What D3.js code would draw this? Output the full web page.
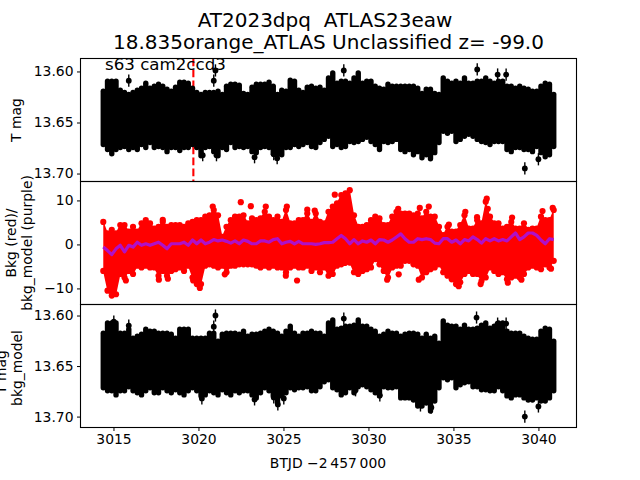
<!DOCTYPE html>
<html><head><meta charset="utf-8"><script src="https://cdn.jsdelivr.net/npm/d3@7/dist/d3.min.js"></script>
<style>html,body{margin:0;background:#fff}svg{display:block}text{font-family:"DejaVu Sans";fill:#000}</style></head>
<body><svg width="640" height="480"></svg>
<script>
const startTime=3014.4, stepDays=0.25;
// Envelope of the photometry, in thousandths of a mag above 13.600
const topHi=[17,7,7,7,16,18,20,18,16,14,9,14,12,10,12,15,17,13,8,8,9,14,18,20,18,18,18,17,20,12,10,10,11,19,20,13,10,10,10,8,12,20,16,17,6,7,16,18,13,12,14,13,16,4,
-1,9,7,7,9,4,-1,9,7,7,12,14,15,10,12,12,12,12,12,12,14,19,15,15,19,20,4,7,9,7,9,4,9,9,7,7,4,7,9,7,7,12,12,14,12,14,15,17,17,12,9,10,20];
const topLo=[74,79,83,79,77,76,79,77,79,74,77,72,77,76,77,81,77,77,80,77,77,74,77,85,77,76,81,85,77,79,72,77,76,77,76,81,82,77,76,77,83,84,84,77,77,74,76,74,72,76,77,72,69,66,
76,74,77,76,71,72,71,69,67,71,74,79,71,72,71,69,79,81,79,84,81,87,84,88,82,72,61,63,61,71,69,66,64,66,69,71,72,74,71,71,71,79,81,77,77,79,79,81,76,82,86,84,76];
const botHi=[15,5,5,5,15,15,11,20,18,16,11,13,13,15,15,15,16,20,11,11,11,20,20,20,20,15,15,23,16,15,15,15,16,13,18,16,16,15,13,11,13,15,18,13,8,15,18,15,15,13,15,15,18,5,
2,11,10,8,8,7,2,8,8,11,13,18,16,13,15,15,18,16,15,15,16,20,16,20,18,25,3,7,8,8,11,7,11,11,10,7,5,10,8,5,5,13,15,15,15,18,20,21,21,13,10,11,23];
const botLo=[74,77,77,81,77,77,73,77,79,81,77,74,79,79,74,77,79,76,79,81,77,74,77,82,81,77,79,81,76,79,81,77,79,77,77,81,84,79,74,77,82,89,82,79,74,76,74,74,73,77,77,73,68,66,
74,76,81,79,74,79,73,71,73,76,79,82,73,74,74,73,84,84,84,86,92,92,89,97,87,74,64,66,64,74,71,69,68,73,73,76,76,77,77,73,77,82,84,81,81,84,86,86,84,87,87,84,77];
const bkgHi=[5.8,3.2,4,3.2,5.1,5.1,3.6,4.7,3.6,5.5,6.2,5.5,4.3,4.7,5.8,4.7,5.1,5.1,5.1,4.7,5.5,5.8,6.2,6.2,7,7.3,8.5,7.3,2.4,4.7,6.2,7,7,7.3,5.5,6.6,6.2,6.6,8.1,7,6.2,7,5.8,8.5,5.5,5.5,6.2,6.2,7.7,5.8,7.7,5.8,5.5,8.1,
9.3,10,11.9,12.3,13,7.3,4.7,4.7,5.1,6.2,7,6.6,5.1,5.1,7,8.1,7.7,7.7,7.7,7.3,7.7,6.6,8.1,7,7,4.7,2.8,4.7,3.6,3.6,5.1,7.3,4.3,4.3,6.2,5.5,10.4,7,5.5,5.5,4.3,4.7,5.8,4.3,4.3,5.5,4,4.3,4.3,7,6.2,6.2,8.5];
const bkgLo=[-6.7,-11.2,-12.3,-12,-7.4,-8.2,-6.7,-7.4,-5.5,-5.9,-5.5,-5.9,-5.9,-7.8,-6.7,-7.8,-6.7,-6.3,-5.9,-6.7,-5.5,-8.2,-9.7,-9.7,-5.5,-5.2,-5.5,-5.9,-5.5,-7,-5.5,-5.5,-5.2,-5.2,-5.2,-5.2,-5.5,-5.9,-5.5,-5.9,-5.5,-5.9,-5.9,-7,-5.9,-5.5,-5.9,-5.9,-5.5,-6.7,-5.9,-7,-5.9,-7.8,
-7.4,-5.5,-5.2,-4.8,-4.8,-7,-7.4,-6.7,-6.3,-5.9,-4,-5.2,-6.7,-8.2,-5.9,-5.5,-5.5,-4.4,-4.4,-5.2,-5.5,-8.2,-7,-6.3,-5.9,-5.2,-7,-7.8,-8.6,-9.7,-9.3,-7.4,-6.7,-7.4,-7.4,-9,-8.2,-5.9,-6.7,-7.4,-7,-8.6,-8.2,-7.8,-8.2,-7.4,-5.9,-5.5,-5.9,-6.3,-5.2,-5.9,-4.4];
const bkgModel=[-.6,-1.4,-2.3,-1,-.2,-1.7,-.2,-.6,.5,-.2,.15,-.2,.15,.5,-.2,-1,.15,.15,.15,.5,-.2,1,.15,1,.15,.5,1.1,.8,1,.7,.3,.8,.15,1,.7,.15,.15,.8,.8,.5,1.1,1.3,.15,.5,.7,.15,.7,.15,.15,.15,0,.15,.4,.4,
.5,1.3,2.05,1.3,.15,1.1,.15,.8,.5,1,.15,1.1,1,.5,1,1.7,2.4,1.3,.5,.5,1.3,1.1,1.3,1.1,.3,.15,1.3,1.3,.5,1,.15,1.1,.8,1.7,1.1,.3,1.3,.8,1.3,.8,1.1,.8,1.7,2.6,1.1,1.7,2.6,2.6,2.05,1,.15,1.3,1.1];
// Isolated points: time, value
const topOutT=[3015.9,3020.9,3021,3028.55,3036.4,3037.6,3038.1,3039.2,3040,3023.3,3024.63,3024.43,3021.06,3020.25];
const topOutM=[9,9,-1,-1,-2,3,3,95,86,84,85,81,82,82];
const botOutT=[3015.02,3015.9,3021,3020.9,3020.2,3023.3,3024.43,3024.67,3025.02,3028.55,3029.24,3030.67,3033.06,3033.7,3036.36,3037.6,3038.1,3039.2,3040];
const botOutM=[6,10,0,11,82,83,81,88,82,3,74,79,89,91,2,8,8,100,90];
const bkgOutT=[3022.49,3023.08,3023.96,3025.2,3020.84,3017.9,3017.67,3018.2,3019.69,3020.08,3025.8,3025.14,3021.55,3015.73,3026.84,3026.4,3028.02,3035.7,3036.96,3037.02,3033.55,3033.02,3031.75,3034.73,3036.39,3040.84,3040.24,3038.45,3028.59,3031.1,3031.78,3032.96,3035.31,3036.6,3038.2,3039,3040.74];
const bkgOutV=[9.6,8.7,8.6,8.6,8.6,5.6,-8,-7.8,-8.2,-9.9,-8.2,-7.1,-6.8,-8.2,7.7,7.9,11.3,7.4,10.4,8.1,8.6,8.3,8.1,4.5,6.2,8.3,7.6,6.1,-4.2,-8,-6.8,-8,-9.5,-9,-8.7,-8,-5.5];
const markerTime=3019.7;
const xTicks=[3015,3020,3025,3030,3035,3040];
const magTicks=[13.60,13.65,13.70];
const bkgTicks=[10,0,-10];

const times=topHi.map((_,i)=>startTime+i*stepDays);
const svg=d3.select("svg");
const L=80.5,R=576.5;
const x=d3.scaleLinear().domain([3013.06,3042.24]).range([L,R]);
const yTop=d3.scaleLinear().domain([13.5873,13.7078]).range([58.5,181.5]);
const yMid=d3.scaleLinear().domain([14.3,-13.65]).range([181.5,304.5]);
const yBot=d3.scaleLinear().domain([13.5891,13.7108]).range([304.5,427.5]);

function tickAxis(g,axis){g.call(axis);g.selectAll("text").style("font-size","13.9px").style("font-family","DejaVu Sans");
 g.selectAll("line").attr("stroke","#000").attr("stroke-width",1);g.select(".domain").remove();}
function frame(y0,y1){svg.append("rect").attr("x",L).attr("y",y0).attr("width",R-L).attr("height",y1-y0).attr("fill","none").attr("stroke","#000").attr("stroke-width",1.1);}

// marker line lies under the black points
svg.append("line").attr("x1",x(markerTime)).attr("x2",x(markerTime)).attr("y1",58.5).attr("y2",181.5)
 .attr("stroke","#f00").attr("stroke-width",2.1).attr("stroke-dasharray","7.7,3.3");

function blackPanel(hi,lo,outT,outM,y){
 const g=svg.append("g");
 const m=v=>13.6+v/1000;
 g.selectAll("line.r").data(times).join("line").attr("class","r").attr("x1",d=>x(d)).attr("x2",d=>x(d))
  .attr("y1",(d,i)=>y(m(hi[i]))+2.5).attr("y2",(d,i)=>y(m(lo[i]))-2.5)
  .attr("stroke","#000").attr("stroke-width",5.4).attr("stroke-linecap","round");
 g.selectAll("line.e").data(outT).join("line").attr("class","e").attr("x1",d=>x(d)).attr("x2",d=>x(d))
  .attr("y1",(d,i)=>y(m(outM[i]-6))).attr("y2",(d,i)=>y(m(outM[i]+6))).attr("stroke","#000").attr("stroke-width",1.4);
 g.selectAll("circle").data(outT).join("circle").attr("cx",d=>x(d)).attr("cy",(d,i)=>y(m(outM[i]))).attr("r",2.9).attr("fill","#000");
}
blackPanel(topHi,topLo,topOutT,topOutM,yTop);
blackPanel(botHi,botLo,botOutT,botOutM,yBot);

// middle panel
const gm=svg.append("g");
gm.append("path").datum(times.map((t,i)=>[t,bkgHi[i],bkgLo[i]]))
 .attr("d",d3.area().x(d=>x(d[0])).y0(d=>yMid(d[1])+2).y1(d=>yMid(d[2])-2)).attr("fill","#f00");
times.forEach((t,i)=>{[bkgHi[i],bkgLo[i]].forEach((v,k)=>{
 gm.append("circle").attr("cx",x(t)).attr("cy",yMid(v)+(k?-3:3)).attr("r",3.1).attr("fill","#f00");});});
gm.selectAll("circle.o").data(bkgOutT).join("circle").attr("class","o").attr("cx",d=>x(d)).attr("cy",(d,i)=>yMid(bkgOutV[i])).attr("r",3.1).attr("fill","#f00");
gm.append("path").datum(times.map((t,i)=>[t,bkgModel[i]])).attr("d",d3.line().x(d=>x(d[0])).y(d=>yMid(d[1]))).attr("fill","none").attr("stroke","#b010c8").attr("stroke-width",3.2).attr("stroke-linejoin","round");

frame(58.5,181.5);frame(181.5,304.5);frame(304.5,427.5);
const fmt=d3.format(".2f");
const ax=d3.axisLeft(yTop).tickValues(magTicks).tickFormat(fmt).tickSize(3.5).tickPadding(3.5);
tickAxis(svg.append("g").attr("transform",`translate(${L},0)`),ax);
tickAxis(svg.append("g").attr("transform",`translate(${L},0)`),d3.axisLeft(yMid).tickValues(bkgTicks).tickFormat(d=>d<0?"\u2212"+(-d):d).tickSize(3.5).tickPadding(3.5));
tickAxis(svg.append("g").attr("transform",`translate(${L},0)`),d3.axisLeft(yBot).tickValues(magTicks).tickFormat(fmt).tickSize(3.5).tickPadding(3.5));
tickAxis(svg.append("g").attr("transform",`translate(0,427.5)`),d3.axisBottom(x).tickValues(xTicks).tickFormat(d3.format("d")).tickSize(3.5).tickPadding(3.5));

function label(s,px,py,size,anchor,rot){const t=svg.append("text").text(s).style("font-size",size+"px").attr("text-anchor",anchor||"middle").attr("xml:space","preserve").style("white-space","pre");
 t.attr("transform",`translate(${px},${py})`+(rot?" rotate(-90)":""));}
label("AT2023dpq  ATLAS23eaw",325,27,20);
label("18.835orange_ATLAS Unclassified z= -99.0",328.5,49,20);
label("s63 cam2ccd3",105,70,16.67,"start");
label("T mag",21,120,13.9,"middle",true);
label("Bkg (red)/",15.5,243,13.9,"middle",true);
label("bkg_model (purple)",31.5,243,13.9,"middle",true);
label("T mag",6,372,13.9,"middle",true);
label("bkg_model",22,368,13.9,"middle",true);
label("BTJD \u22122\u2009457\u2009000",328,468,13.9);
</script></body></html>
